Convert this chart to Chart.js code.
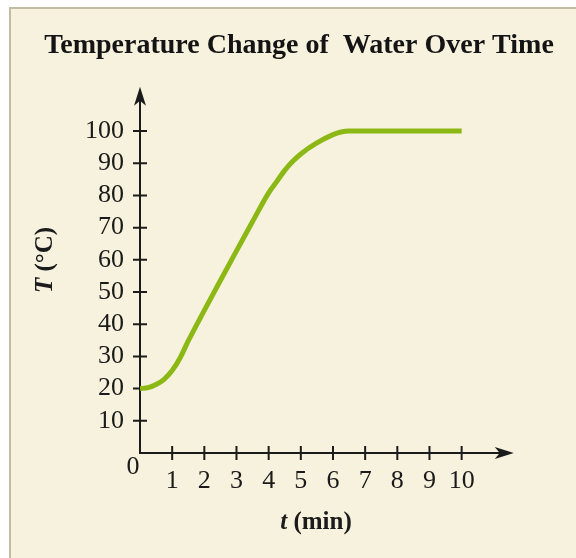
<!DOCTYPE html>
<html>
<head>
<meta charset="utf-8">
<script src="https://cdn.jsdelivr.net/npm/chart.js@4/dist/chart.umd.min.js"></script>
<style>
html,body{margin:0;padding:0;background:#fff;}
#wrap{width:576px;height:558px;position:relative;}
</style>
</head>
<body>
<div id="wrap"><canvas id="c" width="576" height="558"></canvas></div>
<script>
// ---- data ----
const timeMin = [0, 0.25, 0.5, 0.75, 1, 1.25, 1.5, 2, 2.5, 3, 3.5, 4, 4.25, 4.5, 4.75, 5, 5.5, 6, 6.25, 6.5, 7, 7.5, 8, 8.5, 9, 9.5, 10];
const tempC   = [20, 20.3, 21.3, 22.9, 25.6, 29.6, 34.8, 44.3, 53.6, 62.8, 71.9, 80.8, 84.3, 87.8, 90.6, 92.9, 96.3, 98.9, 99.7, 100, 100, 100, 100, 100, 100, 100, 100];
const xTickValues = [1, 2, 3, 4, 5, 6, 7, 8, 9, 10];
const xTickLabels = ['1', '2', '3', '4', '5', '6', '7', '8', '9', '10'];
const yTickValues = [10, 20, 30, 40, 50, 60, 70, 80, 90, 100];
const yTickLabels = ['10', '20', '30', '40', '50', '60', '70', '80', '90', '100'];
const originLabel = '0';
const chartTitle = 'Temperature Change of  Water Over Time';
const xTitleItalic = 't', xTitleRest = ' (min)';
const yTitleItalic = 'T', yTitleRest = ' (°C)';

const SERIF = '"Liberation Serif", "DejaVu Serif", serif';
const INK = '#1b1b1b';

const panelPlugin = {
  id: 'panel',
  beforeDraw(chart) {
    const ctx = chart.ctx;
    ctx.save();
    ctx.fillStyle = '#ffffff';
    ctx.fillRect(0, 0, chart.width, chart.height);
    ctx.fillStyle = '#f7f2de';
    ctx.fillRect(10, 8, chart.width - 10, chart.height - 8);
    ctx.strokeStyle = '#c4bba3';
    ctx.lineWidth = 2;
    ctx.beginPath();
    ctx.moveTo(10, chart.height);
    ctx.lineTo(10, 8);
    ctx.lineTo(chart.width, 8);
    ctx.stroke();
    ctx.restore();
  }
};

const axesPlugin = {
  id: 'axesArrows',
  beforeDatasetsDraw(chart) {
    const ctx = chart.ctx;
    const xs = chart.scales.x, ys = chart.scales.y;
    const x0 = xs.getPixelForValue(0), y0 = ys.getPixelForValue(0);
    const yTip = ys.getPixelForValue(113.8);
    const xTip = xs.getPixelForValue(11.62);
    ctx.save();
    ctx.strokeStyle = INK; ctx.fillStyle = INK;
    ctx.lineWidth = 2;
    ctx.beginPath();
    ctx.moveTo(x0, y0 + 1); ctx.lineTo(x0, yTip + 10);
    ctx.moveTo(x0 - 1, y0); ctx.lineTo(xTip - 10, y0);
    ctx.stroke();
    // ticks crossing the axes
    ctx.beginPath();
    yTickValues.forEach(v => { const p = ys.getPixelForValue(v); ctx.moveTo(x0 - 7, p); ctx.lineTo(x0 + 7, p); });
    xTickValues.forEach(v => { const p = xs.getPixelForValue(v); ctx.moveTo(p, y0 - 7); ctx.lineTo(p, y0 + 7); });
    ctx.stroke();
    // arrowheads
    ctx.beginPath();
    ctx.moveTo(x0, yTip); ctx.lineTo(x0 - 6, yTip + 19); ctx.lineTo(x0, yTip + 14); ctx.lineTo(x0 + 6, yTip + 19); ctx.closePath();
    ctx.fill();
    ctx.beginPath();
    ctx.moveTo(xTip, y0); ctx.lineTo(xTip - 19, y0 - 6); ctx.lineTo(xTip - 14, y0); ctx.lineTo(xTip - 19, y0 + 6); ctx.closePath();
    ctx.fill();
    // origin label
    ctx.font = '26px ' + SERIF;
    ctx.textAlign = 'center'; ctx.textBaseline = 'middle';
    ctx.fillText(originLabel, x0 - 7, y0 + 14);
    ctx.restore();
  },
  afterDraw(chart) {
    const ctx = chart.ctx;
    ctx.save();
    ctx.fillStyle = INK;
    ctx.textBaseline = 'middle';
    ctx.textAlign = 'left';
    const fI = 'italic bold 25px ' + SERIF, fB = 'bold 25px ' + SERIF;
    // x title
    ctx.font = fI; const w1 = ctx.measureText(xTitleItalic).width;
    ctx.font = fB; const w2 = ctx.measureText(xTitleRest).width;
    const cx = 316, cy = 523;
    let sx = cx - (w1 + w2) / 2;
    ctx.font = fI; ctx.fillText(xTitleItalic, sx, cy);
    ctx.font = fB; ctx.fillText(xTitleRest, sx + w1, cy);
    // y title rotated
    ctx.translate(46, 260);
    ctx.rotate(-Math.PI / 2);
    ctx.font = fI; const v1 = ctx.measureText(yTitleItalic).width;
    ctx.font = fB; const v2 = ctx.measureText(yTitleRest).width;
    sx = -(v1 + v2) / 2;
    ctx.font = fI; ctx.fillText(yTitleItalic, sx, 0);
    ctx.font = fB; ctx.fillText(yTitleRest, sx + v1, 0);
    ctx.restore();
  }
};

new Chart(document.getElementById('c'), {
  type: 'line',
  data: {
    datasets: [{
      data: timeMin.map((t, i) => ({ x: t, y: tempC[i] })),
      borderColor: '#8cb815',
      borderWidth: 5,
      pointRadius: 0,
      cubicInterpolationMode: 'monotone',
      fill: false
    }]
  },
  options: {
    responsive: false,
    animation: false,
    events: [],
    layout: { padding: { left: 36, right: 14, top: 0, bottom: 0 } },
    plugins: {
      legend: { display: false },
      tooltip: { enabled: false },
      title: {
        display: true,
        text: chartTitle,
        color: '#141414',
        font: { family: SERIF, size: 28, weight: 'bold', lineHeight: 1.2 },
        padding: { top: 29, bottom: 23.4 }
      }
    },
    scales: {
      x: {
        type: 'linear',
        min: 0, max: 13.12,
        grid: { display: false, drawTicks: false },
        border: { display: false },
        afterBuildTicks: s => { s.ticks = xTickValues.map(v => ({ value: v })); },
        afterFit: s => { s.height = 105; },
        ticks: {
          autoSkip: false, maxRotation: 0, padding: 13,
          color: INK,
          font: { family: SERIF, size: 26 },
          callback: (v) => xTickLabels[xTickValues.indexOf(v)]
        }
      },
      y: {
        type: 'linear',
        min: 0, max: 114,
        grid: { display: false, drawTicks: false },
        border: { display: false },
        afterBuildTicks: s => { s.ticks = yTickValues.map(v => ({ value: v })); },
        afterFit: s => { s.width = 104; },
        ticks: {
          autoSkip: false, padding: 16,
          color: INK,
          font: { family: SERIF, size: 26 },
          callback: (v) => yTickLabels[yTickValues.indexOf(v)]
        }
      }
    }
  },
  plugins: [panelPlugin, axesPlugin]
});
</script>
</body>
</html>
